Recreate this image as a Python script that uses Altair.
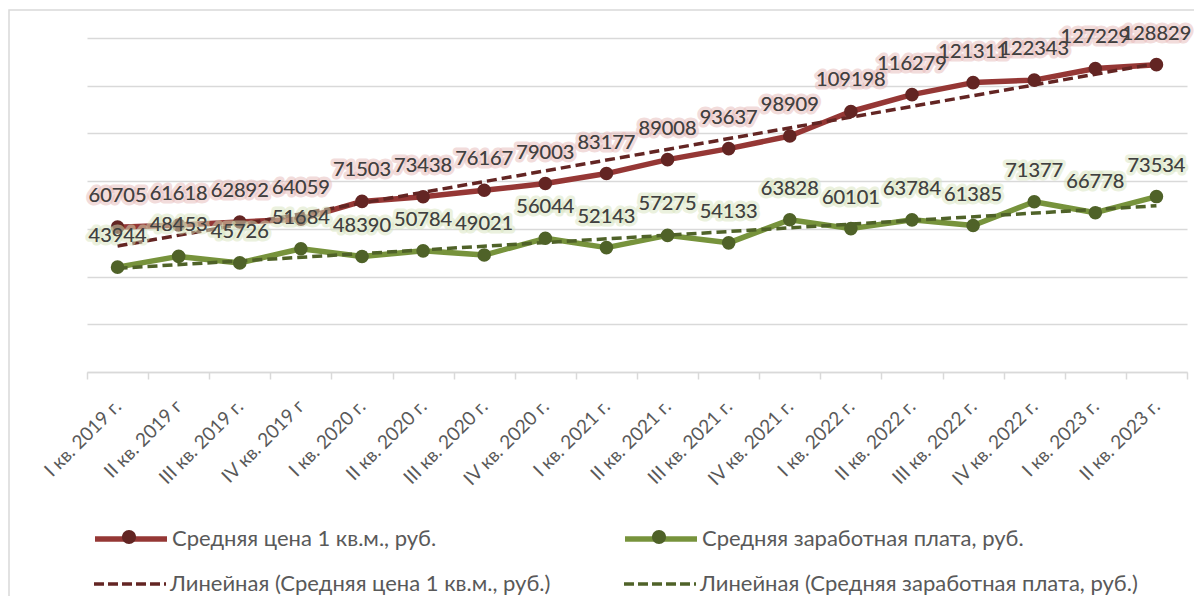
import altair as alt
import pandas as pd

quarters = [
    "I кв. 2019 г.", "II кв. 2019 г", "III кв. 2019 г.", "IV кв. 2019 г",
    "I кв. 2020 г.", "II кв. 2020 г.", "III кв. 2020 г.", "IV кв. 2020 г.",
    "I кв. 2021 г.", "II кв. 2021 г.", "III кв. 2021 г.", "IV кв. 2021 г.",
    "I кв. 2022 г.", "II кв. 2022 г.", "III кв. 2022 г.", "IV кв. 2022 г.",
    "I кв. 2023 г.", "II кв. 2023 г.",
]
price = [60705, 61618, 62892, 64059, 71503, 73438, 76167, 79003, 83177,
         89008, 93637, 98909, 109198, 116279, 121311, 122343, 127229, 128829]
salary = [43944, 48453, 45726, 51684, 48390, 50784, 49021, 56044, 52143,
          57275, 54133, 63828, 60101, 63784, 61385, 71377, 66778, 73534]

price_name = "Средняя цена 1 кв.м., руб."
salary_name = "Средняя заработная плата, руб."
trend_word = "Линейная"

rows = []
for i, q in enumerate(quarters):
    rows.append({"quarter": q, "idx": i + 1, "series": price_name, "value": price[i]})
    rows.append({"quarter": q, "idx": i + 1, "series": salary_name, "value": salary[i]})
df = pd.DataFrame(rows)

W, H = 1100, 334
FONT = "Lato"
GRID = "#d9d9d9"

xscale = alt.Scale(type="band", paddingInner=0, paddingOuter=0)
x_hidden = alt.X("quarter:N", sort=quarters, scale=xscale, axis=None, title=None)
x_axis = alt.X(
    "quarter:N", sort=quarters, scale=xscale, title=None,
    axis=alt.Axis(
        labelAngle=315, labelAlign="right", labelBaseline="middle",
        labelFont=FONT, labelFontSize=19, labelColor="#595959", labelPadding=24,
        labelOverlap=False, tickBand="extent", tickSize=7, tickColor=GRID,
        tickWidth=1.5, domainColor=GRID, domainWidth=1.5, grid=False,
    ),
)
yscale = alt.Scale(domain=[0, 140000], nice=False, zero=True)
y_enc = alt.Y(
    "value:Q", scale=yscale, title=None,
    axis=alt.Axis(values=list(range(0, 140001, 20000)), grid=True, labels=False,
                  ticks=False, domain=False, gridColor=GRID, gridWidth=1.3),
)

LINE_PATH = "M-1,0L1,0"
r = 7 / 36
DOT_PATH = f"M{r:.4f},0A{r:.4f},{r:.4f},0,1,1,{-r:.4f},0A{r:.4f},{r:.4f},0,1,1,{r:.4f},0Z"


def legend(lx, ly, **kw):
    opts = dict(orient="none", legendX=lx, legendY=ly, title=None, padding=0,
                symbolSize=5184, labelFont=FONT, labelFontSize=22,
                labelColor="#595959", labelOffset=2, labelLimit=0)
    opts.update(kw)
    return alt.Legend(**opts)


series_specs = [
    # name, line colour, marker colour, glow colour, legend x
    (price_name, "#953735", "#632523", "#e6b9b8", 5),
    (salary_name, "#77933c", "#4f6228", "#d7e4bd", 535),
]
ROW1_Y = 536 - 38 - 36
ROW2_Y = 582 - 38 - 36

base = alt.Chart(df)

border = alt.Chart(pd.DataFrame({"a": [0]})).mark_rect(
    filled=False, stroke=GRID, strokeWidth=1.5
).encode(x=alt.value(-78), y=alt.value(-28), x2=alt.value(W + 40), y2=alt.value(H + 400))

lines, trends, points, glows, texts = [], [], [], [], []
for k, (name, lc, mc, gc, lx) in enumerate(series_specs):
    sub = base.transform_filter(alt.datum.series == name)
    lines.append(
        sub.mark_line(strokeWidth=5.5, strokeJoin="round").encode(
            x=x_axis if k == 0 else x_hidden,
            y=y_enc,
            color=alt.Color("series:N", scale=alt.Scale(domain=[name], range=[lc]),
                            legend=legend(lx, ROW1_Y, symbolType=LINE_PATH,
                                          symbolStrokeWidth=5.5)),
        )
    )
    tname = f"{trend_word} ({name})"
    trends.append(
        sub.transform_regression("idx", "value", extent=[1, len(quarters)])
        .transform_calculate(trend=f"'{tname}'")
        .mark_line(strokeWidth=3.5, strokeDash=[10, 5])
        .encode(
            x=alt.X("idx:Q", scale=alt.Scale(domain=[0.5, len(quarters) + 0.5],
                                             nice=False, zero=False), axis=None),
            y=y_enc,
            color=alt.Color("trend:N", scale=alt.Scale(domain=[tname], range=[mc]),
                            legend=legend(lx, ROW2_Y, symbolType=LINE_PATH,
                                          symbolStrokeWidth=3.5, symbolDash=[10, 4])),
        )
    )
    points.append(
        sub.mark_circle(size=185, opacity=1).encode(
            x=x_hidden, y=y_enc,
            color=alt.Color("series:N", scale=alt.Scale(domain=[name], range=[mc]),
                            legend=legend(lx, ROW1_Y, symbolType=DOT_PATH,
                                          symbolOpacity=1, labelExpr="''")),
        )
    )
    glows.append(
        sub.mark_text(dy=-31, fontSize=20, font=FONT, color="#404040", stroke=gc,
                      strokeWidth=7, strokeOpacity=0.5, strokeJoin="round").encode(
            x=x_hidden, y=y_enc, text=alt.Text("value:Q", format="d"))
    )
    texts.append(
        sub.mark_text(dy=-31, fontSize=20, font=FONT, color="#404040").encode(
            x=x_hidden, y=y_enc, text=alt.Text("value:Q", format="d"))
    )

chart = (
    alt.layer(border, *lines, *trends, *points, glows[0], texts[0], glows[1], texts[1])
    .resolve_scale(x="independent", color="independent")
    .properties(
        width=W, height=H,
        padding={"left": 79, "top": 30, "right": 7, "bottom": 224},
        autosize=alt.AutoSizeParams(type="none"),
    )
    .configure_view(strokeWidth=0)
)

chart.save("out.html", embed_options={"renderer": "svg", "actions": False})
